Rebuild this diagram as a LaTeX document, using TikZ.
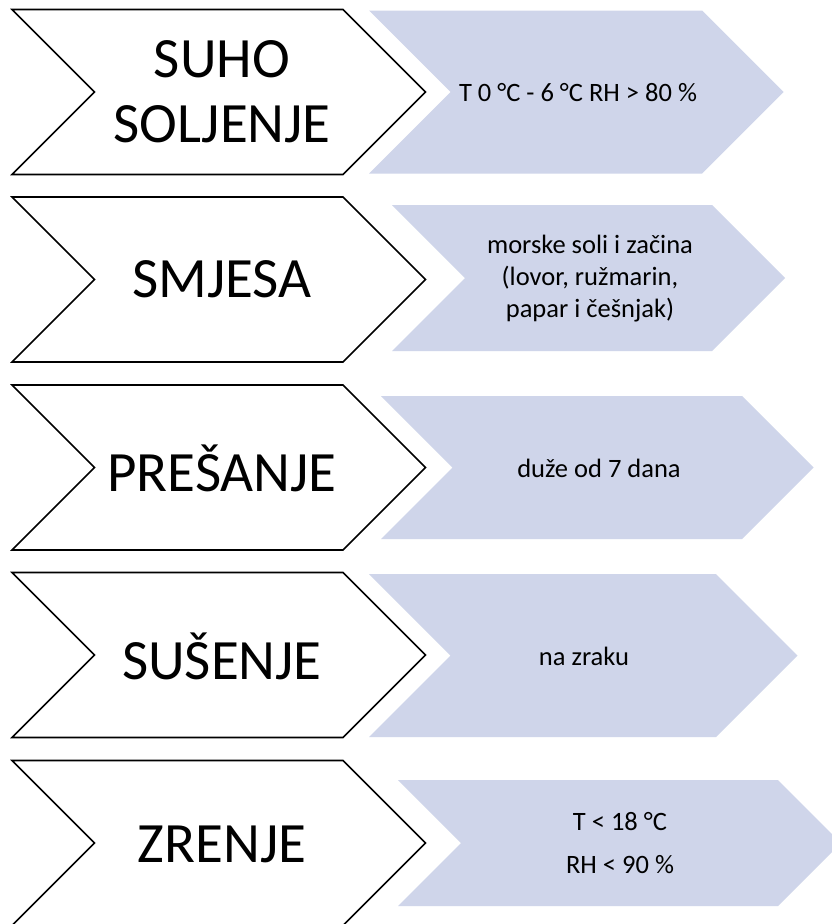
\documentclass[tikz,border=0pt]{standalone}
\usepackage{fontspec}
\setmainfont{Carlito}
\definecolor{chevblue}{HTML}{CFD5EA}
\newcommand{\chevpath}[4]{(#1,#3-#4) -- (#2,#3-#4) -- (#2+#4,#3) -- (#2,#3+#4) -- (#1,#3+#4) -- (#1+#4,#3) -- cycle}
\begin{document}
\begin{tikzpicture}[x=1pt,y=-1pt,
  whitechev/.style={draw=black,line width=1.6pt,fill=white,line join=miter},
  bluechev/.style={fill=chevblue,draw=none},
  bigtxt/.style={font=\fontsize{57}{65}\selectfont,align=center,inner sep=0pt},
  smalltxt/.style={font=\fontsize{26.5}{32}\selectfont,align=center,inner sep=0pt}]
\useasboundingbox (0,0) rectangle (831,924);
\fill[white] (0,0) rectangle (831,924);
% white chevrons
\draw[whitechev] \chevpath{12}{343}{92}{82.5};
\draw[whitechev] \chevpath{12}{343}{279.5}{82.5};
\draw[whitechev] \chevpath{12}{343}{467.5}{82.5};
\draw[whitechev] \chevpath{12}{343}{655}{82.5};
\draw[whitechev] \chevpath{12}{343}{843}{82.5};
% blue chevrons
\fill[bluechev] \chevpath{369}{702}{92}{81.5};
\fill[bluechev] \chevpath{392}{712}{278}{73};
\fill[bluechev] \chevpath{381}{742}{467.5}{71.5};
\fill[bluechev] \chevpath{369}{716}{655.5}{81.5};
\fill[bluechev] \chevpath{398}{778}{843}{63};
% labels
\node[bigtxt] (t1) at (222,92) {SUHO\\SOLJENJE};
\node[bigtxt] (t2) at (222,279) {SMJESA};
\node[bigtxt] (t3) at (222,468) {PREŠANJE};
\node[bigtxt] (t4) at (222,656) {SUŠENJE};
\node[bigtxt] (t5) at (222,844) {ZRENJE};
\node[smalltxt] (d1) at (578,93) {T 0 °C - 6 °C RH > 80 \%};
\node[smalltxt] (d2) at (590,279) {morske soli i začina\\(lovor, ružmarin,\\papar i češnjak)};
\node[smalltxt] (d3) at (599,468) {duže od 7 dana};
\node[smalltxt] (d4) at (584,656) {na zraku};
\node[smalltxt,anchor=base] (d5a) at (620,830) {T < 18 °C};
\node[smalltxt,anchor=base] (d5b) at (620,873) {RH < 90 \%};
\end{tikzpicture}
\end{document}
